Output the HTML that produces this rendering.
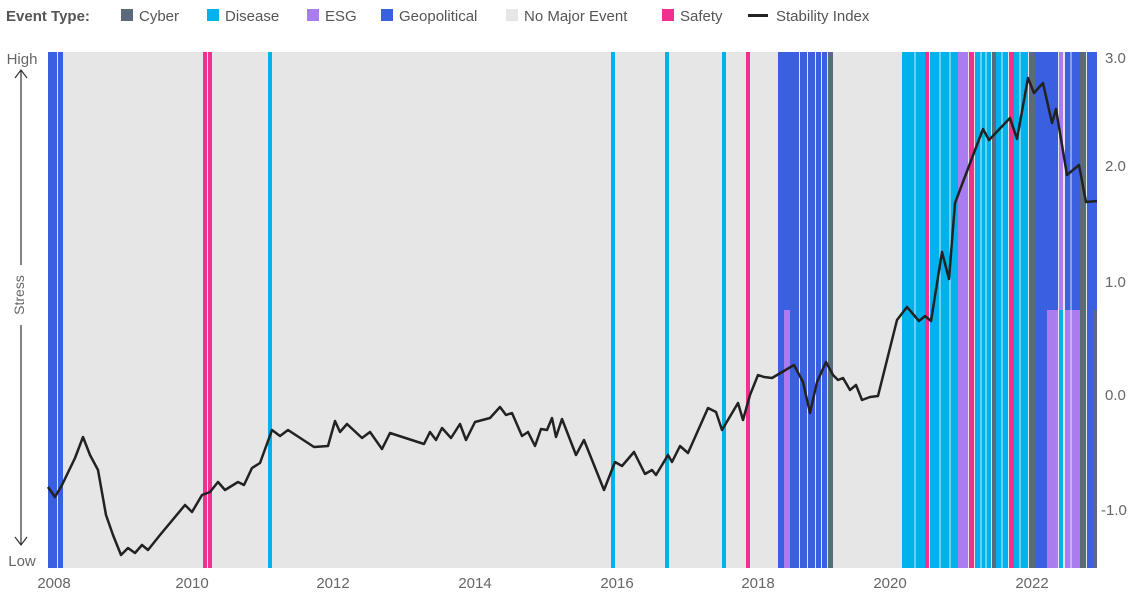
<!DOCTYPE html>
<html><head><meta charset="utf-8"><style>
body{margin:0;background:#fff;font-family:"Liberation Sans",sans-serif;}
</style></head><body>
<svg width="1140" height="600" xmlns="http://www.w3.org/2000/svg" font-family="Liberation Sans, sans-serif">
<g font-size="15" fill="#555">
<text x="6" y="21" font-weight="bold" fill="#555">Event Type:</text>
<rect x="121" y="9" width="12" height="12" fill="#5b6b7c"/><text x="139" y="21">Cyber</text>
<rect x="207" y="9" width="12" height="12" fill="#00b2ec"/><text x="225" y="21">Disease</text>
<rect x="307" y="9" width="12" height="12" fill="#a97cf0"/><text x="325" y="21">ESG</text>
<rect x="381" y="9" width="12" height="12" fill="#3a5fe0"/><text x="399" y="21">Geopolitical</text>
<rect x="506" y="9" width="12" height="12" fill="#e6e6e6"/><text x="524" y="21">No Major Event</text>
<rect x="662" y="9" width="12" height="12" fill="#f0318f"/><text x="680" y="21">Safety</text>
<rect x="748" y="14" width="20" height="3" fill="#222"/><text x="776" y="21">Stability Index</text>
</g>
<rect x="48" y="52" width="1049" height="516" fill="#e6e6e6"/>
<g fill="#3a5fe0">
<rect x="48" y="52" width="9" height="516"/><rect x="58" y="52" width="5" height="516"/>
<rect x="778" y="52" width="21" height="516"/><rect x="800" y="52" width="7" height="516"/><rect x="808" y="52" width="7" height="516"/><rect x="816" y="52" width="5" height="516"/><rect x="822" y="52" width="5" height="516"/>
<rect x="1035" y="52" width="23" height="516"/><rect x="1065" y="52" width="15" height="516"/><rect x="1087" y="52" width="10" height="516"/>
</g>
<g fill="#f0318f">
<rect x="203" y="52" width="4" height="516"/><rect x="208" y="52" width="4" height="516"/>
<rect x="746" y="52" width="4" height="516"/>
<rect x="925" y="52" width="4" height="516"/><rect x="969" y="52" width="5" height="516"/><rect x="1009" y="52" width="5" height="516"/>
</g>
<g fill="#00b2ec">
<rect x="268" y="52" width="4" height="516"/><rect x="611" y="52" width="4" height="516"/><rect x="665" y="52" width="4" height="516"/><rect x="722" y="52" width="4" height="516"/>
<rect x="902" y="52" width="23" height="516"/><rect x="930" y="52" width="28" height="516"/><rect x="975" y="52" width="16" height="516"/><rect x="996" y="52" width="12" height="516"/><rect x="1014" y="52" width="14" height="516"/><rect x="1059" y="310" width="4" height="258"/>
</g>
<g fill="#5b6b7c">
<rect x="828" y="52" width="5" height="516"/><rect x="992" y="52" width="4" height="516"/><rect x="1029" y="52" width="6" height="516"/><rect x="1080" y="52" width="6" height="516"/><rect x="1093" y="310" width="4" height="258"/>
</g>
<g fill="#a97cf0">
<rect x="784" y="310" width="6" height="258"/><rect x="958" y="52" width="10" height="516"/><rect x="1059" y="52" width="4" height="258"/>
<rect x="1047" y="310" width="11" height="258"/><rect x="1065" y="310" width="15" height="258"/>
</g>
<g stroke="#fff" stroke-width="1" opacity="0.8">
<line x1="940" y1="52" x2="940" y2="568"/><line x1="950" y1="52" x2="950" y2="568"/><line x1="981" y1="52" x2="981" y2="568"/><line x1="986" y1="52" x2="986" y2="568"/><line x1="1002" y1="52" x2="1002" y2="568"/><line x1="1020" y1="52" x2="1020" y2="568"/><line x1="1071" y1="52" x2="1071" y2="568"/><line x1="915" y1="52" x2="915" y2="568"/>
</g>
<polyline fill="none" stroke="#222" stroke-width="2.5" stroke-linejoin="round" points="48,487 55,497 62,485 75,458 83,437 90,455 98,470 106,515 113,535 121,555 128,548 135,553 142,545 148,550 160,535 185,505 192,512 202,495 210,492 218,482 225,490 238,482 244,485 252,468 260,463 272,430 280,436 288,430 314,447 328,446 335,421 340,432 347,424 362,438 370,432 382,449 390,433 424,444 430,432 436,440 442,428 451,438 460,424 466,440 475,422 490,418 500,407 506,415 512,413 522,436 528,432 535,446 541,429 547,430 552,418 556,437 562,419 576,455 584,440 604,490 615,462 622,466 634,452 645,474 652,470 656,475 668,455 672,462 680,446 688,453 708,408 716,412 722,430 738,403 743,420 750,395 758,375 764,377 772,378 794,365 803,382 810,413 817,382 826,362 833,375 838,380 843,378 850,390 856,385 862,400 870,397 878,396 897,320 907,307 919,321 925,316 931,321 942,252 949,279 955,203 983,129 989,140 1010,118 1017,139 1028,78 1034,93 1043,83 1052,123 1056,109 1067,175 1079,165 1086,202 1097,201"/>
<g font-size="15" fill="#666">
<text x="1105" y="63">3.0</text><text x="1105" y="171">2.0</text><text x="1105" y="287">1.0</text><text x="1105" y="400">0.0</text><text x="1101" y="515">-1.0</text>
<g text-anchor="middle"><text x="54" y="588">2008</text><text x="192" y="588">2010</text><text x="333" y="588">2012</text><text x="475" y="588">2014</text><text x="617" y="588">2016</text><text x="758" y="588">2018</text><text x="890" y="588">2020</text><text x="1032" y="588">2022</text>
<text x="22" y="64">High</text><text x="22" y="566">Low</text></g>
<text transform="translate(24,295) rotate(-90)" text-anchor="middle" font-size="14">Stress</text>
</g>
<g stroke="#333" stroke-width="1.2" fill="none">
<line x1="21" y1="70" x2="21" y2="265"/><polyline points="15,78 21,70 27,78"/>
<line x1="21" y1="325" x2="21" y2="545"/><polyline points="15,537 21,545 27,537"/>
</g>
</svg>
</body></html>
